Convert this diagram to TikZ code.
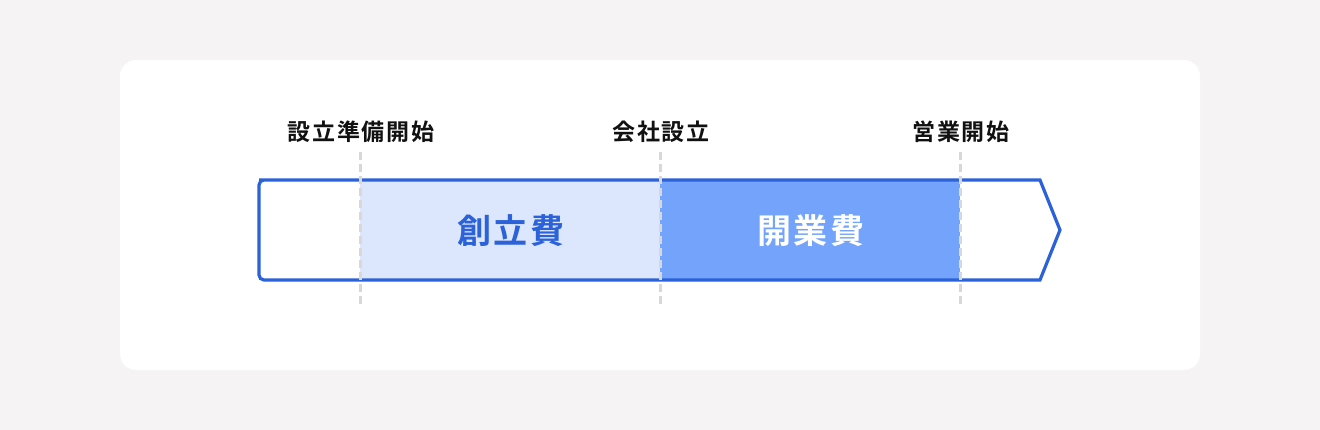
\documentclass[tikz,border=0pt]{standalone}
\usepackage{fontspec}
\setmainfont{Noto Sans CJK JP}
\newfontfamily\jpbold[LetterSpace=8]{Noto Sans CJK JP Bold}
\newfontfamily\jpbig[LetterSpace=8]{Noto Sans CJK JP Bold}
\definecolor{bgc}{HTML}{F5F3F4}
\definecolor{blueline}{HTML}{2B62D9}
\definecolor{lightfill}{HTML}{DCE7FD}
\definecolor{darkfill}{HTML}{73A3FB}
\definecolor{dashc}{HTML}{D8D8DB}
\definecolor{labc}{HTML}{111111}
\begin{document}
\begin{tikzpicture}[x=1pt,y=-1pt,
  lab/.style={font=\jpbold\fontsize{23}{25}\selectfont, text=labc, inner sep=0pt, anchor=center},
  big/.style={font=\jpbig\fontsize{34}{38}\selectfont, inner sep=0pt, anchor=center},
  guide/.style={draw=dashc, line width=3pt, dash pattern=on 8pt off 4pt}]
\useasboundingbox (0,0) rectangle (1320,430);
\fill[bgc] (0,0) rectangle (1320,430);
\fill[white, rounded corners=16pt] (120,60) rectangle (1200,370);
% fills
\fill[lightfill] (360,180) rectangle (660,280);
\fill[darkfill] (660,180) rectangle (960,280);
% outline
\draw[blueline, line width=3.2pt, line join=miter]
  (1040,180) -- (1060,230) -- (1040,280) -- (264,280)
  [rounded corners=5pt] -- (259,280) -- (259,180) -- (264,180) [sharp corners] -- cycle;
% guides
\coordinate (g1t) at (360,152); \coordinate (g1b) at (360,306);
\coordinate (g2t) at (660,152); \coordinate (g2b) at (660,306);
\coordinate (g3t) at (960,152); \coordinate (g3b) at (960,306);
\draw[guide] (g1t) -- (g1b);
\draw[guide] (g2t) -- (g2b);
\draw[guide] (g3t) -- (g3b);
% labels
\node[lab] (l1) at (361,132) {設立準備開始};
\node[lab] (l2) at (661,132) {会社設立};
\node[lab] (l3) at (961,132) {営業開始};
\node[big, text=blueline] (c1) at (511,231) {創立費};
\node[big, text=white] (c2) at (811,231) {開業費};
\end{tikzpicture}
\end{document}
